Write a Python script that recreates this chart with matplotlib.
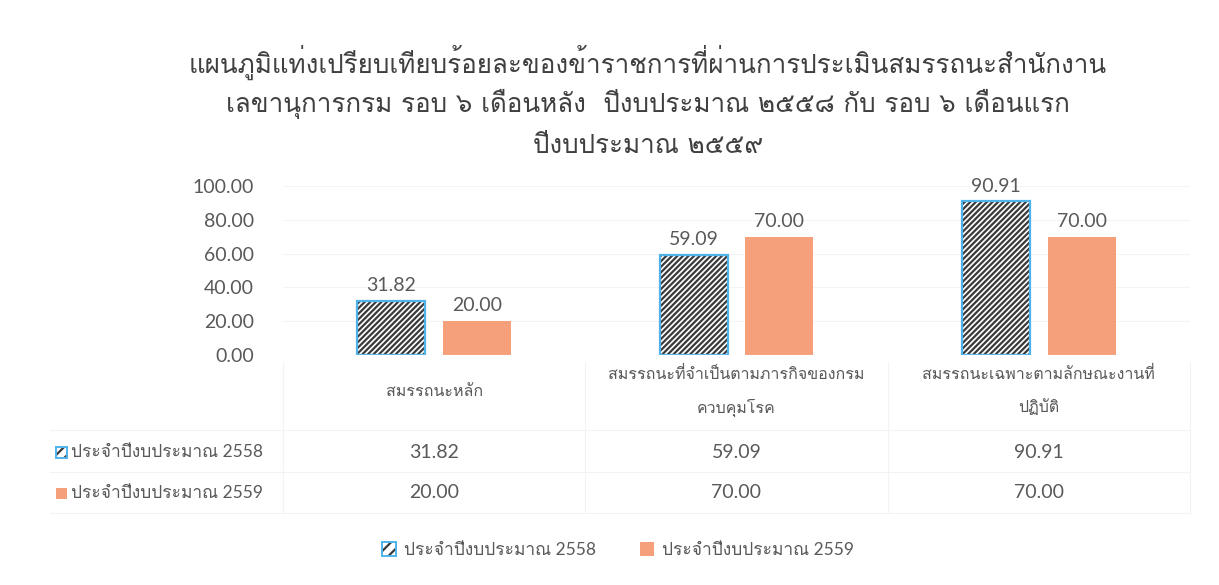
import matplotlib
matplotlib.use("Agg")
import matplotlib.pyplot as plt
from matplotlib import font_manager
from matplotlib.ft2font import FT2Font
from matplotlib.patches import Patch
import numpy as np

# data
title_lines = [
    "แผนภูมิแท่งเปรียบเทียบร้อยละของข้าราชการที่ผ่านการประเมินสมรรถนะสำนักงาน",
    "เลขานุการกรม รอบ ๖ เดือนหลัง  ปีงบประมาณ ๒๕๕๘ กับ รอบ ๖ เดือนแรก",
    "ปีงบประมาณ ๒๕๕๙",
]
categories = [
    ["สมรรถนะหลัก"],
    ["สมรรถนะที่จำเป็นตามภารกิจของกรม", "ควบคุมโรค"],
    ["สมรรถนะเฉพาะตามลักษณะงานที่", "ปฏิบัติ"],
]
series_names = ["ประจำปีงบประมาณ 2558", "ประจำปีงบประมาณ 2559"]
values_2558 = [31.82, 59.09, 90.91]
values_2559 = [20.00, 70.00, 70.00]
yticks = [0, 20, 40, 60, 80, 100]

# find a font with Thai glyphs
thai_family = None
for f in font_manager.fontManager.ttflist:
    try:
        if ord("ก") in FT2Font(f.fname).get_charmap():
            thai_family = f.name
            if "Sans" in f.name or "Loma" in f.name or "Garuda" in f.name:
                break
    except Exception:
        pass
fam_thai = [thai_family, "DejaVu Sans"] if thai_family else ["DejaVu Sans"]
fam_num = ["Lato"] + fam_thai

gray = "#595959"
orange = "#F5A07A"
blue_edge = "#4FB3EA"
stripe = "#3a3a3a"
plt.rcParams["hatch.linewidth"] = 1.6

W, H = 1219, 585
fig = plt.figure(figsize=(W / 100, H / 100), dpi=100)


def fx(px):
    return px / W


def fy(py):
    return 1 - py / H


left, right, top, bottom = 283, 1190, 186, 355
ax = fig.add_axes([fx(left), fy(bottom), fx(right - left), fy(top) - fy(bottom)])

x = np.arange(len(values_2558))
bw = 0.225
off = 0.142
ax.bar(x - off, values_2558, bw, facecolor="white", edgecolor=stripe, hatch="//////", linewidth=0)
ax.bar(x - off, values_2558, bw, fill=False, edgecolor=blue_edge, linewidth=1.6)
ax.bar(x + off, values_2559, bw, color=orange, linewidth=0)

for xi, v in zip(x, values_2558):
    ax.text(xi - off, v + 4, f"{v:.2f}", ha="center", va="bottom", fontsize=14, color=gray, family=fam_num)
for xi, v in zip(x, values_2559):
    ax.text(xi + off, v + 4, f"{v:.2f}", ha="center", va="bottom", fontsize=14, color=gray, family=fam_num)

ax.set_xlim(-0.5, len(x) - 0.5)
ax.set_ylim(0, 100)
ax.set_yticks(yticks)
ax.set_yticklabels([f"{t:.2f}" for t in yticks], fontsize=14, color=gray, family=fam_num)
ax.tick_params(axis="y", length=0, pad=21)
ax.set_xticks([])
ax.grid(axis="y", color="#f4f4f4", linewidth=0.8)
ax.set_axisbelow(True)
for s in ax.spines.values():
    s.set_visible(False)
ax.axhline(0, color="#ececec", linewidth=0.8)

# title
for i, line in enumerate(title_lines):
    fig.text(fx(648), fy(62 + 42 * i), line, ha="center", va="center", fontsize=18.7, color="#404040",
             family=fam_thai)

# data table
line_c = "#f3f3f3"
col_w = (right - left) / len(x)
for yy in [430, 472, 513]:
    fig.add_artist(plt.Line2D([fx(50), fx(right)], [fy(yy), fy(yy)], color=line_c, linewidth=0.8))
for i in range(len(x) + 1):
    xx = left + i * col_w
    fig.add_artist(plt.Line2D([fx(xx), fx(xx)], [fy(362), fy(513)], color=line_c, linewidth=0.8))

for i, cat in enumerate(categories):
    cx = left + (i + 0.5) * col_w
    if len(cat) == 1:
        fig.text(fx(cx), fy(392), cat[0], ha="center", va="center", fontsize=11.5, color=gray, family=fam_thai)
    else:
        for j, part in enumerate(cat):
            fig.text(fx(cx), fy(375 + 33 * j), part, ha="center", va="center", fontsize=11.5, color=gray,
                     family=fam_thai)

rows = [values_2558, values_2559]
row_y = [452, 493]
for r, (vals, yy) in enumerate(zip(rows, row_y)):
    for i, v in enumerate(vals):
        cx = left + (i + 0.5) * col_w
        fig.text(fx(cx), fy(yy), f"{v:.2f}", ha="center", va="center", fontsize=14, color=gray, family=fam_num)

# legend keys in table
key_w, key_h = 11, 11
for r, yy in enumerate(row_y):
    if r == 0:
        fig.add_artist(plt.Rectangle((fx(56), fy(yy + key_h / 2)), fx(key_w), key_h / H, facecolor="white",
                                     edgecolor=stripe, hatch="///", linewidth=0))
        fig.add_artist(plt.Rectangle((fx(56), fy(yy + key_h / 2)), fx(key_w), key_h / H, fill=False,
                                     edgecolor=blue_edge, linewidth=1.4))
    else:
        fig.add_artist(plt.Rectangle((fx(56), fy(yy + key_h / 2)), fx(key_w), key_h / H, facecolor=orange,
                                     linewidth=0))
    fig.text(fx(71), fy(yy), series_names[r], ha="left", va="center", fontsize=12.5, color=gray, family=fam_num)

# bottom legend
handles = [
    (Patch(facecolor="white", edgecolor=stripe, hatch="///", linewidth=0),
     Patch(fill=False, edgecolor=blue_edge, linewidth=1.4)),
    Patch(facecolor=orange, linewidth=0),
]
leg = fig.legend(handles, series_names, loc="center", bbox_to_anchor=(fx(618), fy(550)), ncol=2, frameon=False,
                 prop={"family": fam_num, "size": 12.5}, handlelength=0.8, handleheight=0.8, columnspacing=2.5,
                 handletextpad=0.5)
for t in leg.get_texts():
    t.set_color(gray)

fig.savefig("out.png", dpi=100, facecolor="white")
